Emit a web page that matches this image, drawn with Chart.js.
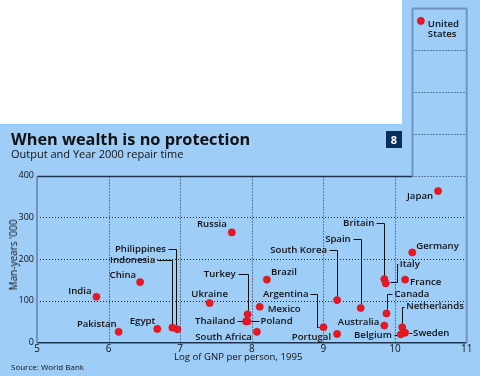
<!DOCTYPE html>
<html>
<head>
<meta charset="utf-8">
<script src="https://cdn.jsdelivr.net/npm/chart.js@4"></script>
<style>
  body { margin: 0; }
  #wrap { position: relative; width: 480px; height: 376px; background: #9ecdf8; overflow: hidden; font-family: "Open Sans", sans-serif; color: #111; }
  #white { position: absolute; left: 0; top: 0; width: 402px; height: 124px; background: #fff; }
  #grafico { position: absolute; left: 0; top: 0; }
  .txt { position: absolute; white-space: nowrap; line-height: 1; }
  #titulo { left: 11px; top: 131px; font-size: 16.3px; font-weight: bold; }
  #subtitulo { left: 11px; top: 147.5px; font-size: 11px; }
  #badge { left: 386px; top: 131px; width: 16px; height: 17px; background: #0b2d5b; color: #fff; font-weight: bold; font-size: 11px; line-height: 17px; text-align: center; }
  #xtitulo { left: 174px; top: 352px; font-size: 9.6px; }
  #ytitulo { left: 12.5px; top: 255px; font-size: 10px; transform: translate(-50%, -50%) rotate(-90deg); }
  #fonte { left: 11px; top: 363px; font-size: 8px; }
</style>
</head>
<body>
<div id="wrap">
  <div id="white"></div>
  <canvas id="grafico" width="480" height="376"></canvas>
  <div class="txt" id="titulo">When wealth is no protection</div>
  <div class="txt" id="subtitulo">Output and Year 2000 repair time</div>
  <div class="txt" id="badge">8</div>
  <div class="txt" id="xtitulo">Log of GNP per person, 1995</div>
  <div class="txt" id="ytitulo">Man-years '000</div>
  <div class="txt" id="fonte">Source: World Bank</div>
</div>
<script>
// Dados
const countries = ['India', 'China', 'Pakistan', 'Egypt', 'Indonesia', 'Philippines', 'Russia', 'Ukraine',
    'Brazil', 'Mexico', 'Turkey', 'Thailand', 'Poland', 'South Africa', 'Argentina', 'Portugal',
    'South Korea', 'Spain', 'Britain', 'Italy', 'France', 'Germany', 'Canada', 'Australia',
    'Netherlands', 'Belgium', 'Sweden', 'Japan', 'United States'];
const gnpLog = [5.83, 6.44, 6.14, 6.68, 6.89, 6.96, 7.72, 7.41,
    8.21, 8.11, 7.94, 7.92, 7.94, 8.07, 9.0, 9.19,
    9.19, 9.52, 9.85, 9.87, 10.14, 10.24, 9.88, 9.85,
    10.10, 10.08, 10.14, 10.6, 10.36];
const manYears = [110, 145, 26, 33, 36, 32, 264, 95,
    151, 86, 68, 51, 51, 26, 37, 21,
    102, 83, 152, 142, 151, 216, 70, 41,
    37, 20, 24, 363, 770];

const xTicks = [5, 6, 7, 8, 9, 10, 11];
const yTicks = [0, 100, 200, 300, 400];
const boxStart = 10.23;   // início da coluna extra para os Estados Unidos
const yTop = 800;

// Posição dos rótulos relativa ao ponto: [dx, dy, alinhamento, linha guia]
const labelPos = {
    'India': [-5, -5, 'right'],
    'China': [-4, -7, 'right'],
    'Pakistan': [-2, -8, 'right'],
    'Egypt': [-2, -8, 'right'],
    'Indonesia': [-17, -67.5, 'right', [[-15, -67.5], [0, -67.5], [0, -4]]],
    'Philippines': [-11.5, -80.5, 'right', [[-9.5, -80.5], [-1, -80.5], [-1, -4]]],
    'Russia': [-5, -8, 'right'],
    'Ukraine': [0, -9, 'center'],
    'Brazil': [4, -7, 'left'],
    'Mexico': [8, 3, 'left'],
    'Turkey': [-12, -40, 'right', [[-10, -40], [0, -40], [0, -4]]],
    'Thailand': [-11, 0, 'right', [[-9, 0], [-3, 0]]],
    'Poland': [13, 0, 'left', [[3, 0], [11, 0]]],
    'South Africa': [-5, 5, 'right'],
    'Argentina': [-15, -33, 'right', [[-13, -33], [-6, -33], [-6, 0], [-4, 0]]],
    'Portugal': [-6, 3, 'right'],
    'South Korea': [-10, -50, 'right', [[-8, -50], [0, -50], [0, -4]]],
    'Spain': [-10, -69, 'right', [[-8, -69], [0, -69], [0, -4]]],
    'Britain': [-10, -56, 'right', [[-8, -56], [0, -56], [0, -4]]],
    'Italy': [14, -19, 'left', [[12, -19], [11, -19], [11, -1.5], [4, -1.5]]],
    'France': [5, 3, 'left'],
    'Germany': [4, -6, 'left'],
    'Canada': [8, -19, 'left', [[6, -19], [1, -19], [1, -4]]],
    'Australia': [-5, -3, 'right'],
    'Netherlands': [4, -20.5, 'left', [[2, -20.5], [0, -20.5], [0, -4]]],
    'Belgium': [-9, 1, 'right', [[-7, 0.5], [-4, 0.5]]],
    'Sweden': [8, 0.5, 'left', [[4, 0.5], [7, 0.5]]],
    'Japan': [-5, 5, 'right'],
    'United States': [7, 3, 'left']
};

function linha(ctx, x1, y1, x2, y2) {
    ctx.beginPath();
    ctx.moveTo(x1, y1);
    ctx.lineTo(x2, y2);
    ctx.stroke();
}

// Grade pontilhada, eixos e caixa extra
const gradePlugin = {
    id: 'grade',
    beforeDatasetsDraw(chart) {
        const { ctx, scales: { x, y } } = chart;
        const left = x.getPixelForValue(5);
        const right = x.getPixelForValue(11);
        const bLeft = Math.round(x.getPixelForValue(boxStart)) + 0.5;
        const y0 = y.getPixelForValue(0);
        const y400 = Math.round(y.getPixelForValue(400)) + 0.5;
        const yMax = Math.round(y.getPixelForValue(yTop)) + 0.5;

        ctx.save();
        ctx.strokeStyle = '#1c2230';
        ctx.lineWidth = 1;
        ctx.setLineDash([1, 2]);
        yTicks.slice(1, 4).forEach(v => {
            const py = Math.round(y.getPixelForValue(v)) + 0.5;
            linha(ctx, left, py, right, py);
        });
        [500, 600, 700, 400].forEach(v => {
            const py = Math.round(y.getPixelForValue(v)) + 0.5;
            linha(ctx, bLeft, py, right, py);
        });
        xTicks.slice(1, 6).forEach(v => {
            const px = Math.round(x.getPixelForValue(v)) + 0.5;
            linha(ctx, px, y400, px, y0);
        });
        ctx.setLineDash([]);

        // linha do topo (400) e eixo x
        ctx.strokeStyle = '#22324a';
        ctx.lineWidth = 1.5;
        linha(ctx, left, y400, bLeft, y400);
        linha(ctx, left, y0, right, y0);

        // bordas azuladas
        ctx.strokeStyle = '#7092c4';
        ctx.lineWidth = 2;
        linha(ctx, left, y400, left, y0);
        linha(ctx, bLeft, yMax, bLeft, y400);
        linha(ctx, bLeft, yMax, right, yMax);
        linha(ctx, right, yMax, right, y0);

        // linhas guia dos rótulos
        ctx.strokeStyle = '#111';
        ctx.lineWidth = 1;
        const meta = chart.getDatasetMeta(0);
        countries.forEach((c, i) => {
            const lp = labelPos[c];
            if (!lp || !lp[3]) return;
            const pt = meta.data[i];
            ctx.beginPath();
            lp[3].forEach((p, k) => {
                const px = Math.round(pt.x + p[0]) + 0.5;
                const py = Math.round(pt.y + p[1]) + 0.5;
                if (k === 0) ctx.moveTo(px, py); else ctx.lineTo(px, py);
            });
            ctx.stroke();
        });
        ctx.restore();
    },
    afterDatasetsDraw(chart) {
        const { ctx } = chart;
        const meta = chart.getDatasetMeta(0);
        ctx.save();
        ctx.fillStyle = '#111';
        ctx.font = '600 9.6px "Open Sans"';
        ctx.textBaseline = 'middle';
        countries.forEach((c, i) => {
            const lp = labelPos[c];
            const pt = meta.data[i];
            ctx.textAlign = lp[2];
            if (c === 'United States') {
                ctx.fillText('United', pt.x + lp[0], pt.y + lp[1]);
                ctx.fillText('States', pt.x + lp[0], pt.y + lp[1] + 10);
            } else {
                ctx.fillText(c, pt.x + lp[0], pt.y + lp[1]);
            }
        });
        ctx.restore();
    }
};

const ctx = document.getElementById('grafico').getContext('2d');

new Chart(ctx, {
    type: 'scatter',
    data: {
        datasets: [{
            label: 'Man-years',
            data: countries.map((c, i) => ({ x: gnpLog[i], y: manYears[i] })),
            backgroundColor: '#ec1520',
            borderColor: '#c0101a',
            borderWidth: 0.5,
            pointRadius: 3.6,
            pointHoverRadius: 3.6
        }]
    },
    options: {
        responsive: false,
        animation: false,
        layout: { padding: { top: 7.5, right: 13.3, left: 0, bottom: 0 } },
        plugins: {
            legend: { display: false },
            tooltip: { enabled: false }
        },
        scales: {
            x: {
                type: 'linear',
                min: 5,
                max: 11,
                grid: { display: false, drawTicks: false },
                border: { display: false },
                afterBuildTicks: s => { s.ticks = xTicks.map(v => ({ value: v })); },
                ticks: { color: '#111', font: { family: 'Open Sans', size: 10 }, padding: 0 },
                afterFit: s => { s.height = 33.3; }
            },
            y: {
                min: 0,
                max: yTop,
                grid: { display: false, drawTicks: false },
                border: { display: false },
                afterBuildTicks: s => { s.ticks = yTicks.map(v => ({ value: v })); },
                ticks: { color: '#111', font: { family: 'Open Sans', size: 9 }, padding: 3 },
                afterFit: s => { s.width = 37; }
            }
        }
    },
    plugins: [gradePlugin]
});
</script>
</body>
</html>
